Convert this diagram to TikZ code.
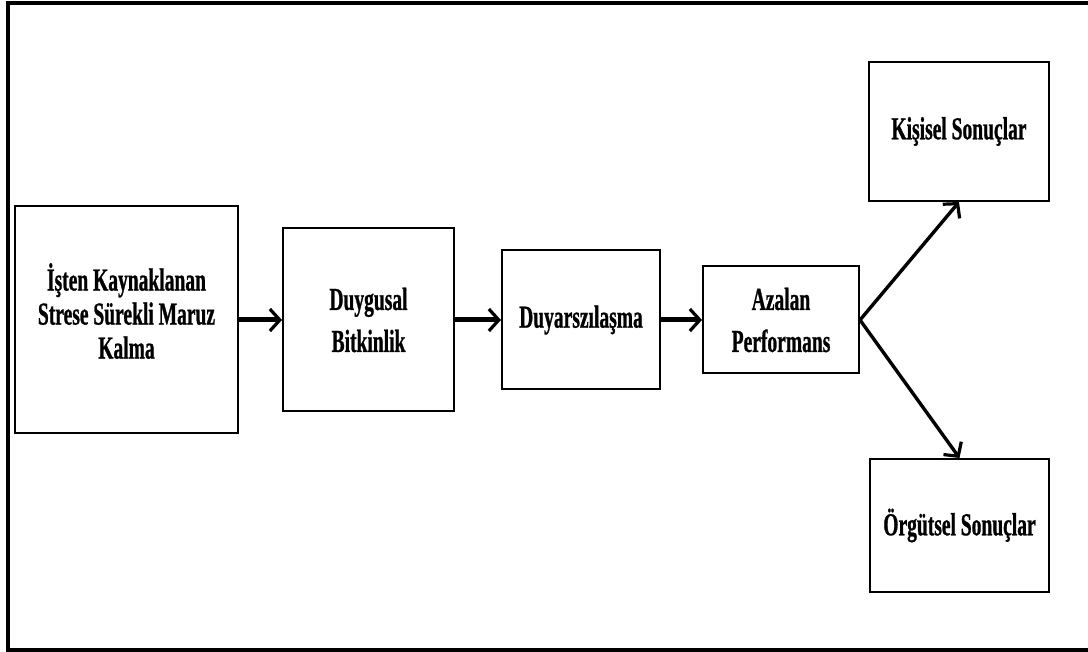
\documentclass[tikz,border=0pt]{standalone}
\usepackage{fontspec}
\newfontfamily\condserif{Liberation Serif}[FakeStretch=0.61,FakeBold=0.8]
\usetikzlibrary{arrows.meta}
\begin{document}
\begin{tikzpicture}[x=1pt,y=-1pt,
  stage/.style={draw=black,line width=2pt,fill=white,inner sep=0pt,align=center,
    font=\condserif\bfseries\fontsize{32}{42}\selectfont},
  caption/.style={inner sep=0pt,align=center,
    font=\condserif\bfseries\fontsize{32}{34}\selectfont},
  flow/.style={line width=5pt,-{Straight Barb[length=10pt,width=22pt,line width=3.2pt]}},
  branch/.style={line width=3.4pt,-{Straight Barb[length=10pt,width=22pt,line width=3.2pt]}}]
\clip (0,0) rectangle (1088,652);
\fill[white] (0,0) rectangle (1088,652);
% outer frame, open beyond the right edge
\draw[line width=4pt] (1100,3) -- (7.5,3) -- (7.5,650) -- (1100,650);

\node[stage,minimum width=223pt,minimum height=227pt] (expo) at (126.5,320) {};
\node[caption] (expotext) at (126.5,311)
  {İşten Kaynaklanan\\Strese Sürekli Maruz\\Kalma};
\node[stage,minimum width=171pt,minimum height=183pt] (exh) at (368.5,320)
  {Duygusal\\Bitkinlik};
\node[stage,minimum width=158pt,minimum height=139pt] (dep) at (581,320)
  {Duyarszılaşma};
\node[stage,minimum width=156pt,minimum height=107pt] (perf) at (781,320)
  {Azalan\\Performans};
\node[stage,minimum width=180pt,minimum height=139pt] (pers) at (959,131.5)
  {Kişisel Sonuçlar};
\node[stage,minimum width=179pt,minimum height=133pt] (org) at (959.5,525.5)
  {Örgütsel Sonuçlar};

\draw[flow] (expo) -- (exh);
\draw[flow] (exh) -- (dep);
\draw[flow] (dep) -- (perf);
\draw[branch] (perf.east) -- (pers.south);
\draw[branch] (perf.east) -- (org.north);
\end{tikzpicture}
\end{document}
